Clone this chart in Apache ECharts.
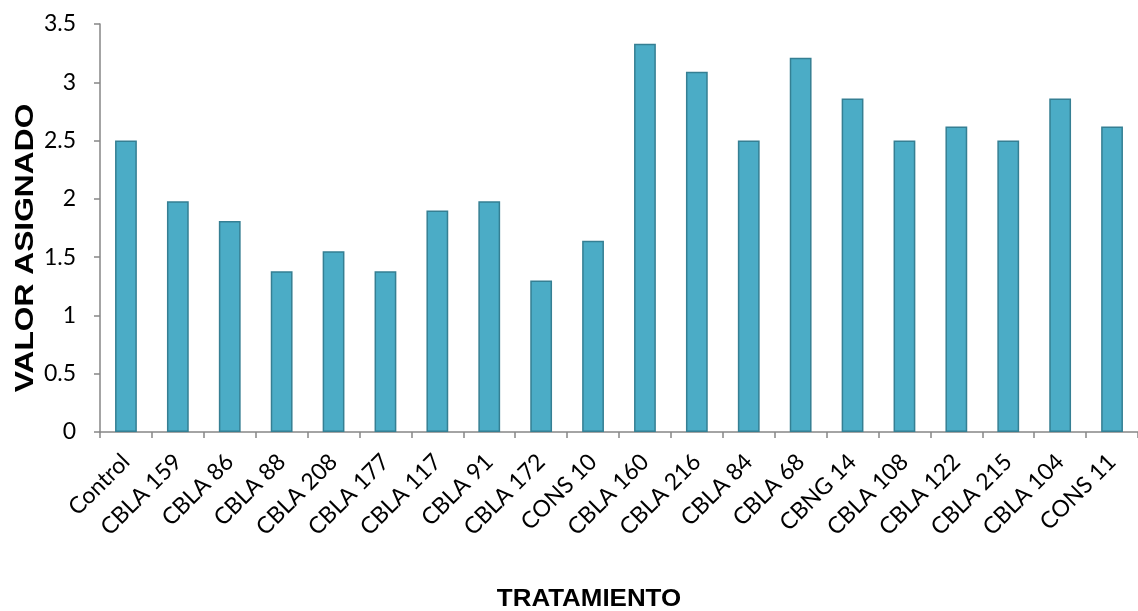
<!DOCTYPE html>
<html>
<head>
<meta charset="utf-8">
<script src="https://cdn.jsdelivr.net/npm/echarts@6/dist/echarts.min.js"></script>
<style>
  html, body { margin: 0; padding: 0; background: #ffffff; }
  #chart { width: 1138px; height: 611px; }
</style>
</head>
<body>
<div id="chart"></div>
<script>
// Treatments on the category axis
const categories = [
  'Control', 'CBLA 159', 'CBLA 86', 'CBLA 88', 'CBLA 208', 'CBLA 177',
  'CBLA 117', 'CBLA 91', 'CBLA 172', 'CONS 10', 'CBLA 160', 'CBLA 216',
  'CBLA 84', 'CBLA 68', 'CBNG 14', 'CBLA 108', 'CBLA 122', 'CBLA 215',
  'CBLA 104', 'CONS 11'
];

// Assigned value per treatment
const valores = [
  2.50, 1.98, 1.81, 1.38, 1.55, 1.38,
  1.90, 1.98, 1.30, 1.64, 3.33, 3.09,
  2.50, 3.21, 2.86, 2.50, 2.62, 2.50,
  2.86, 2.62
];

// Value-axis range
const yMin = 0;
const yMax = 3.5;
const yStep = 0.5;

const axisGrey = '#868686';
const labelFont = 'Lato, "Open Sans", sans-serif';
const titleFont = '"Liberation Sans", Arial, sans-serif';

const chart = echarts.init(document.getElementById('chart'), null, { renderer: 'canvas' });

chart.setOption({
  animation: false,
  backgroundColor: '#ffffff',
  grid: { left: 100, right: -9, top: 24, bottom: 179, containLabel: false },
  xAxis: {
    type: 'category',
    data: categories,
    boundaryGap: true,
    axisLine: { lineStyle: { color: axisGrey, width: 1.5 } },
    axisTick: { show: true, alignWithLabel: false, length: 6, inside: false,
                lineStyle: { color: axisGrey, width: 1.5 } },
    axisLabel: {
      rotate: 45, interval: 0, margin: 26,
      color: '#000000', fontSize: 23, fontFamily: labelFont
    },
    splitLine: { show: false }
  },
  yAxis: {
    type: 'value',
    min: yMin, max: yMax, interval: yStep,
    axisLine: { show: true, lineStyle: { color: axisGrey, width: 1.5 } },
    axisTick: { show: true, length: 6, inside: false, lineStyle: { color: axisGrey, width: 1.5 } },
    axisLabel: {
      margin: 24, color: '#000000', fontSize: 23, fontFamily: labelFont,
      formatter: v => String(v)
    },
    splitLine: { show: false }
  },
  series: [{
    type: 'bar',
    data: valores,
    barWidth: '42%',
    itemStyle: { color: '#4bacc6', borderColor: '#357f93', borderWidth: 1.5 }
  }],
  graphic: [
    {
      type: 'text',
      x: 26, y: 248, rotation: Math.PI / 2, scaleX: 1.27,
      style: {
        text: 'VALOR ASIGNADO', fill: '#000000',
        font: 'bold 25px ' + titleFont,
        align: 'center', verticalAlign: 'middle'
      }
    },
    {
      type: 'text',
      x: 589, y: 599, scaleX: 1.08,
      style: {
        text: 'TRATAMIENTO', fill: '#000000',
        font: 'bold 24px ' + titleFont,
        align: 'center', verticalAlign: 'middle'
      }
    }
  ]
});
</script>
</body>
</html>
